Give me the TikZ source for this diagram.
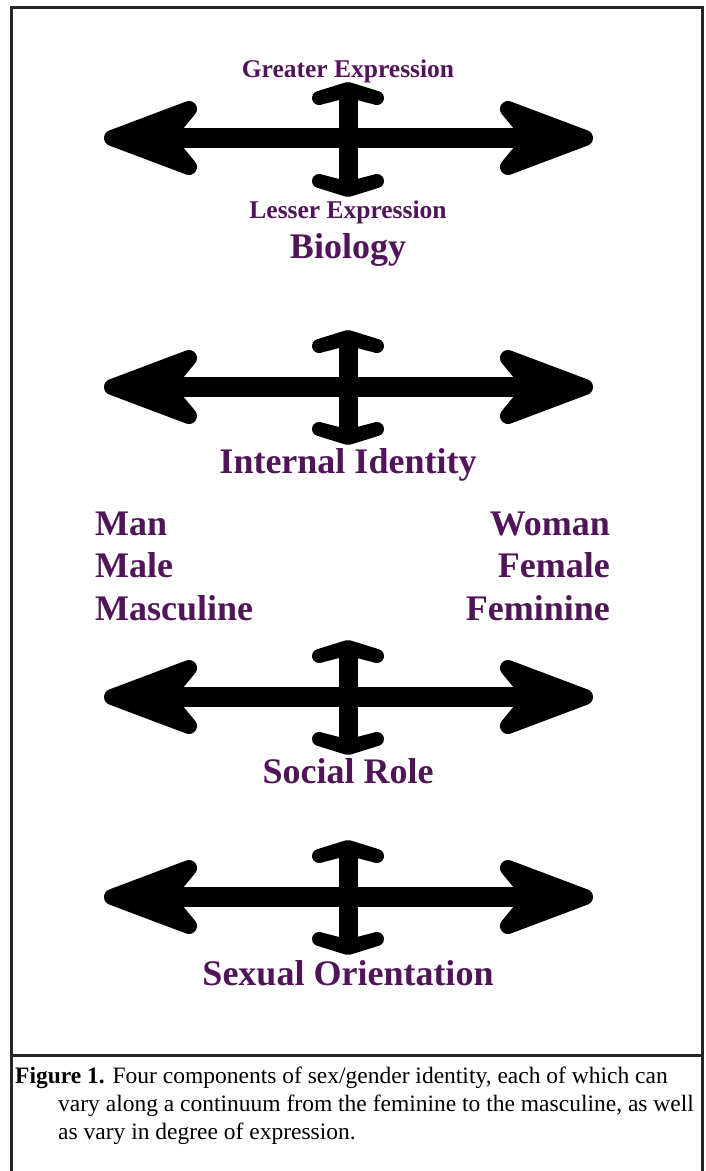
\documentclass[tikz,border=0pt]{standalone}
\usepackage{fontspec}
\setmainfont{Liberation Serif}
\definecolor{labelpurple}{RGB}{80,20,88}
\tikzset{
	lr shaft/.style={line width=20pt, shorten <=40pt, shorten >=40pt},
	ud shaft/.style={line width=19pt, shorten <=10pt, shorten >=10pt},
	lhead/.pic={\filldraw[line width=16pt, line join=round] (8, 0) -- (85, -29) -- (66, -6) -- (66, 6) -- (85, 29) -- cycle;},
	uhead/.pic={\filldraw[line width=14pt, line join=round] (0, 7) -- (29, 16) -- (6, 10) -- (-6, 10) -- (-29, 16) -- cycle;},
	heading/.style={text=labelpurple, inner sep=0pt, font=\bfseries\fontsize{36}{40}\selectfont},
	degree/.style={text=labelpurple, inner sep=0pt, font=\bfseries\fontsize{25.5}{30}\selectfont},
	captext/.style={inner sep=0pt, anchor=base west, font=\fontsize{23.5}{29}\selectfont}
}

\begin{document}
\begin{tikzpicture}[x=1pt, y=-1pt]
			%%%%% START %%%%%
			\useasboundingbox (0, 0) rectangle (706, 1171);
			
			% frame and caption rule
			\draw[line width=3pt, color=black!85] (11, 1171) -- (11, 7) -- (702, 7) -- (702, 1171);
			\draw[line width=3pt, color=black!85] (11, 1055) -- (702, 1055);
			
			% biology
			\coordinate (bio-w) at (104, 138);
			\coordinate (bio-e) at (593, 138);
			\coordinate (bio-n) at (348, 82);
			\coordinate (bio-s) at (348, 197);
			\draw[lr shaft] (bio-w) -- (bio-e);
			\draw[ud shaft] (bio-s) -- (bio-n);
			\pic at (bio-w) {lhead};
			\pic[rotate=180] at (bio-e) {lhead};
			\pic at (bio-n) {uhead};
			\pic[rotate=180] at (bio-s) {uhead};
			\node[degree, anchor=base] (greater) at (348, 77) {Greater Expression};
			\node[degree, anchor=base] (lesser) at (348, 218) {Lesser Expression};
			\node[heading, anchor=base] (biology) at (348, 258) {Biology};
			
			% internal identity
			\coordinate (id-w) at (104, 387);
			\coordinate (id-e) at (593, 387);
			\coordinate (id-n) at (348, 330);
			\coordinate (id-s) at (348, 445);
			\draw[lr shaft] (id-w) -- (id-e);
			\draw[ud shaft] (id-s) -- (id-n);
			\pic at (id-w) {lhead};
			\pic[rotate=180] at (id-e) {lhead};
			\pic at (id-n) {uhead};
			\pic[rotate=180] at (id-s) {uhead};
			\node[heading, anchor=base] (identity) at (348, 473) {Internal Identity};
			
			% poles
			\node[heading, anchor=base west] (man) at (95, 535) {Man};
			\node[heading, anchor=base west] (male) at (95, 577) {Male};
			\node[heading, anchor=base west] (masculine) at (95, 620) {Masculine};
			\node[heading, anchor=base east] (woman) at (610, 535) {Woman};
			\node[heading, anchor=base east] (female) at (610, 577) {Female};
			\node[heading, anchor=base east] (feminine) at (610, 620) {Feminine};
			
			% social role
			\coordinate (role-w) at (104, 697);
			\coordinate (role-e) at (593, 697);
			\coordinate (role-n) at (348, 640);
			\coordinate (role-s) at (348, 755);
			\draw[lr shaft] (role-w) -- (role-e);
			\draw[ud shaft] (role-s) -- (role-n);
			\pic at (role-w) {lhead};
			\pic[rotate=180] at (role-e) {lhead};
			\pic at (role-n) {uhead};
			\pic[rotate=180] at (role-s) {uhead};
			\node[heading, anchor=base] (role) at (348, 783) {Social Role};
			
			% sexual orientation
			\coordinate (orient-w) at (104, 897);
			\coordinate (orient-e) at (593, 897);
			\coordinate (orient-n) at (348, 840);
			\coordinate (orient-s) at (348, 955);
			\draw[lr shaft] (orient-w) -- (orient-e);
			\draw[ud shaft] (orient-s) -- (orient-n);
			\pic at (orient-w) {lhead};
			\pic[rotate=180] at (orient-e) {lhead};
			\pic at (orient-n) {uhead};
			\pic[rotate=180] at (orient-s) {uhead};
			\node[heading, anchor=base] (orientation) at (348, 985) {Sexual Orientation};
			
			% caption
			\node[captext] (cap-a) at (15, 1083) {\textbf{Figure 1.} Four components of sex/gender identity, each of which can};
			\node[captext] (cap-b) at (58, 1111) {vary along a continuum from the feminine to the masculine, as well};
			\node[captext] (cap-c) at (58, 1139) {as vary in degree of expression.};
			
			%%%%% END %%%%%
		\end{tikzpicture}
\end{document}
